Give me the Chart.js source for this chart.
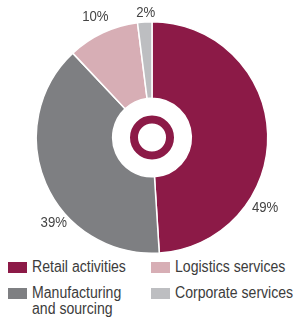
<!DOCTYPE html>
<html>
<head>
<meta charset="utf-8">
<script src="https://cdn.jsdelivr.net/npm/chart.js@4"></script>
<style>
  body { margin: 0; background: #fff; width: 295px; height: 320px; overflow: hidden; }
  #wrap { position: absolute; left: 0; top: 0; width: 295px; height: 256px; }
  .legend { position: absolute; font-family: "Liberation Sans", Arial, sans-serif; font-size: 16px; color: #3c3c3c; line-height: 16px; }
  .legend .sw { position: absolute; left: 0; top: 0; width: 19px; height: 11px; }
  .legend .tx { position: absolute; left: 24px; top: -3px; white-space: nowrap; transform: scaleX(0.88); transform-origin: 0 0; }
</style>
</head>
<body>
<div id="wrap"><canvas id="myChart"></canvas></div>
<div id="legend"></div>
<script>
const categories = ['Retail activities', 'Manufacturing\nand sourcing', 'Logistics services', 'Corporate services'];
const shares = [49, 39, 10, 2];
const colors = ['#8c1a47', '#7e7f82', '#d7aeb5', '#bdbec1'];

// where each % label sits: fraction along the slice, distance from centre
const labelSpots = [[0.69, 133], [0.375, 130], [0.5, 133], [0.6, 125]];

const pctLabels = {
  id: 'pctLabels',
  afterDatasetsDraw(chart) {
    const ctx = chart.ctx;
    const arcs = chart.getDatasetMeta(0).data;
    ctx.save();
    ctx.font = '15px "Liberation Sans", Arial, sans-serif';
    ctx.fillStyle = '#444';
    ctx.textAlign = 'center';
    ctx.textBaseline = 'middle';
    arcs.forEach(function(arc, i) {
      const p = arc.getProps(['x', 'y', 'startAngle', 'endAngle'], true);
      const a = p.startAngle + (p.endAngle - p.startAngle) * labelSpots[i][0];
      const d = labelSpots[i][1];
      ctx.save();
      ctx.translate(p.x + Math.cos(a) * d, p.y + Math.sin(a) * d);
      ctx.scale(0.88, 1);  // narrow type like the original
      ctx.fillText(shares[i] + '%', 0, 0);
      ctx.restore();
    });
    // little ring in the hole
    const c = arcs[0];
    ctx.beginPath();
    ctx.arc(c.x, c.y, 18, 0, Math.PI * 2);
    ctx.lineWidth = 8;
    ctx.strokeStyle = colors[0];
    ctx.stroke();
    ctx.restore();
  }
};

document.addEventListener('DOMContentLoaded', () => {
  const ctx = document.getElementById('myChart').getContext('2d');
  new Chart(ctx, {
    type: 'doughnut',
    data: {
      labels: categories,
      datasets: [{
        data: shares,
        backgroundColor: colors,
        borderColor: '#ffffff',
        borderWidth: 1.5,
        hoverOffset: 0
      }]
    },
    options: {
      responsive: true,
      maintainAspectRatio: false,
      animation: false,
      cutout: '34%',
      layout: { padding: { top: 21, bottom: 2, left: 9, right: 0 } },
      plugins: {
        legend: { display: false },
        tooltip: { enabled: false }
      }
    },
    plugins: [pctLabels]
  });

  // legend under the chart, two columns
  const spots = [[8, 262], [8, 288], [151, 262], [151, 288]];
  const lg = document.getElementById('legend');
  categories.forEach(function(name, i) {
    const item = document.createElement('div');
    item.className = 'legend';
    item.style.left = spots[i][0] + 'px';
    item.style.top = spots[i][1] + 'px';
    item.innerHTML = '<div class="sw" style="background:' + colors[i] + '"></div>' +
      '<div class="tx">' + name.replace('\n', '<br>') + '</div>';
    lg.appendChild(item);
  });
});
</script>
</body>
</html>
